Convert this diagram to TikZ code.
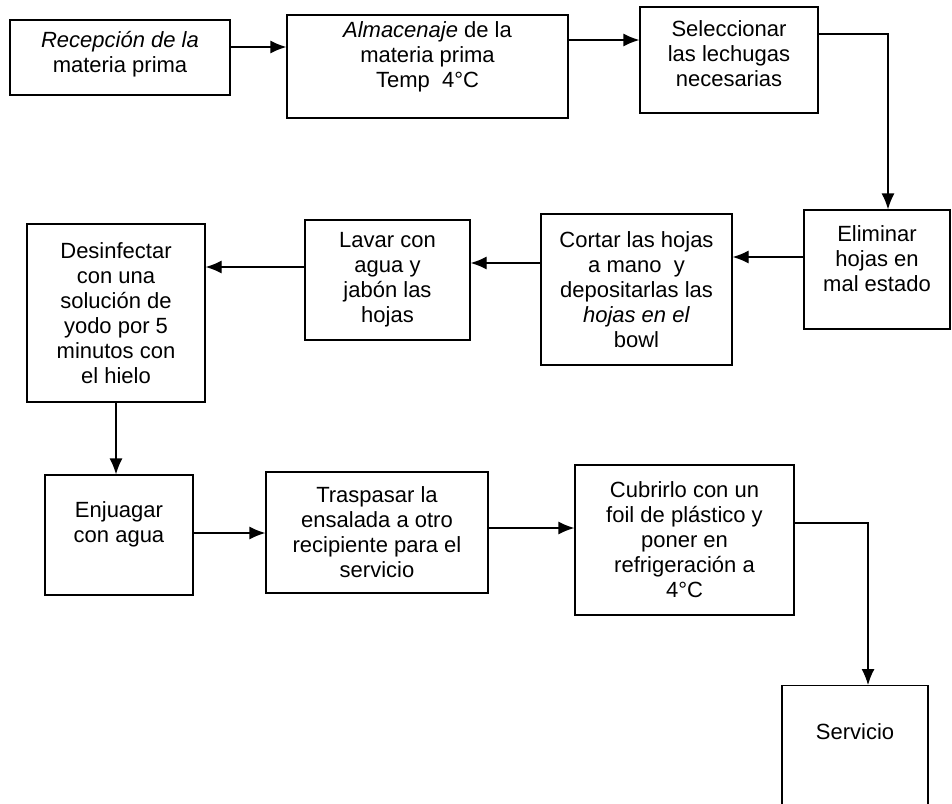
\documentclass[tikz,border=0pt]{standalone}
\usepackage{fontspec}
\setmainfont{Liberation Sans}
\usetikzlibrary{arrows.meta}

\begin{document}
\begin{tikzpicture}[x=1pt, y=-1pt,
		box/.style={draw, line width=1.3pt, align=center, inner sep=0pt, font=\fontsize{22}{25}\selectfont},
		txt/.style={align=center, inner sep=0pt, font=\fontsize{22}{25}\selectfont},
		arr/.style={line width=1.3pt, -{Latex[length=16pt,width=13pt]}}]
		%%%%% START %%%%%
		
		\useasboundingbox (0, 0) rectangle (952, 803);
		
		% first row
		\node[box, minimum width=220, minimum height=75] (recep) at (120, 57.5) {};
		\node[txt, yshift=3pt] (recep-t) at (recep) {\textit{Recepción de la}\\materia prima};
		\node[box, minimum width=281, minimum height=103] (almac) at (427.5, 66.5) {};
		\node[txt, yshift=10pt] (almac-t) at (almac) {\textit{Almacenaje} de la\\materia prima\\Temp\ \ 4°C};
		\node[box, minimum width=178, minimum height=106] (selec) at (729, 60) {};
		\node[txt, yshift=6pt] (selec-t) at (selec) {Seleccionar\\las lechugas\\necesarias};
		
		% second row
		\node[box, minimum width=146, minimum height=119] (elim) at (877, 269.5) {};
		\node[txt, yshift=11pt] (elim-t) at (elim) {Eliminar\\hojas en\\mal estado};
		\node[box, minimum width=191, minimum height=151] (cortar) at (636.5, 289.5) {Cortar las hojas\\a mano\ \ y\\depositarlas las\\\textit{hojas en el}\\bowl};
		\node[box, minimum width=165, minimum height=120] (lavar) at (387.5, 280) {Lavar con\\agua y\\jabón las\\hojas};
		\node[box, minimum width=178, minimum height=178] (desinf) at (116, 313) {Desinfectar\\con una\\solución de\\yodo por 5\\minutos con\\el hielo};
		
		% third row
		\node[box, minimum width=148, minimum height=120] (enjuag) at (119, 535) {};
		\node[txt, yshift=11pt] (enjuag-t) at (enjuag) {Enjuagar\\con agua};
		\node[box, minimum width=222, minimum height=121] (trasp) at (377, 532.5) {Traspasar la\\ensalada a otro\\recipiente para el\\servicio};
		\node[box, minimum width=219, minimum height=150] (cubrir) at (684.5, 540) {Cubrirlo con un\\foil de plástico y\\poner en\\refrigeración a\\4°C};
		
		% last box runs off the page
		\node[box, anchor=north, minimum width=146, text height=54pt, text depth=100pt] (serv) at (855, 685) {Servicio};
		
		% connectors
		\draw[arr] ([yshift=10.5pt]recep.east) coordinate (p) -- (p -| almac.west);
		\draw[arr] ([yshift=26.5pt]almac.east) coordinate (p) -- (p -| selec.west);
		\draw[arr] ([yshift=26pt]selec.east) -| ([xshift=11pt]elim.north);
		\draw[arr] ([yshift=12.5pt]elim.west) coordinate (p) -- (p -| cortar.east);
		\draw[arr] ([yshift=26.5pt]cortar.west) coordinate (p) -- (p -| lavar.east);
		\draw[arr] ([yshift=13pt]lavar.west) coordinate (p) -- (p -| desinf.east);
		\draw[arr] (desinf.south) coordinate (p) -- (p |- enjuag.north);
		\draw[arr] ([yshift=2pt]enjuag.east) coordinate (p) -- (p -| trasp.west);
		\draw[arr] ([yshift=4.5pt]trasp.east) coordinate (p) -- (p -| cubrir.west);
		\draw[arr] ([yshift=17pt]cubrir.east) -| ([xshift=13pt]serv.north);
		
		%%%%% END %%%%%
\end{tikzpicture}
\end{document}
